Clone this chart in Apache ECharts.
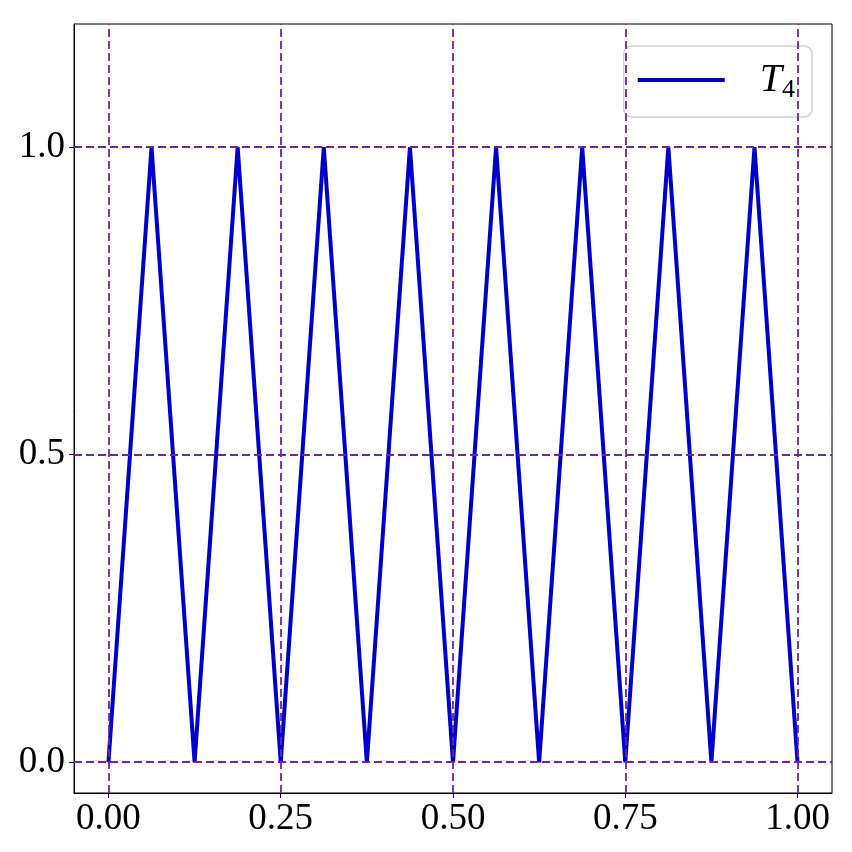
<!DOCTYPE html>
<html><head><meta charset="utf-8">
<script src="https://cdn.jsdelivr.net/npm/echarts@6/dist/echarts.min.js"></script>
<style>html,body{margin:0;padding:0;background:#fff}#c{width:852px;height:852px}</style>
</head><body><div id="c"></div>
<script>
// Tent map T_4 vertices
const xValues = [0, 0.0625, 0.125, 0.1875, 0.25, 0.3125, 0.375, 0.4375, 0.5, 0.5625, 0.625, 0.6875, 0.75, 0.8125, 0.875, 0.9375, 1.0];
const yValues = [0, 1, 0, 1, 0, 1, 0, 1, 0, 1, 0, 1, 0, 1, 0, 1, 0];
const xTicks = [0, 0.25, 0.5, 0.75, 1.0];
const yTicks = [0, 0.5, 1.0];
const seriesName = 'T4';

const fontFam = '"Liberation Serif", "DejaVu Serif", serif';
const gridColor = '#7420A8';
const chart = echarts.init(document.getElementById('c'));
chart.setOption({
  animation: false,
  grid: {left: 74, right: 20, top: 24, bottom: 59, show: true, borderColor: '#000', borderWidth: 1, containLabel: false},
  legend: {
    right: 40, top: 46, itemWidth: 87, itemHeight: 4, itemGap: 0,
    padding: [14, 17, 14, 14],
    borderColor: '#d0d0d0', borderWidth: 1.5, borderRadius: 8,
    backgroundColor: 'rgba(255,255,255,0.8)',
    icon: 'rect',
    data: [{name: seriesName}],
    formatter: function(){ return '{t|T}{s|4}'; },
    textStyle: {
      padding: [0, 0, 0, 30],
      rich: {
        t: {fontFamily: fontFam, fontStyle: 'italic', fontSize: 40, color: '#000'},
        s: {fontFamily: fontFam, fontSize: 26, color: '#000', padding: [20, 0, 0, 0]}
      }
    }
  },
  xAxis: {
    type: 'value', min: -0.05, max: 1.05,
    axisLine: {show: true, onZero: false, lineStyle: {color: '#000', width: 1}},
    axisTick: {show: true, length: 5, customValues: xTicks, lineStyle: {color: '#000'}},
    axisLabel: {customValues: xTicks, margin: 8, fontFamily: fontFam, fontSize: 37, color: '#000',
      formatter: v => v.toFixed(2)},
    splitLine: {show: false}
  },
  yAxis: {
    type: 'value', min: -0.05, max: 1.2,
    axisLine: {show: true, onZero: false, lineStyle: {color: '#000', width: 1}},
    axisTick: {show: true, length: 5, customValues: yTicks, lineStyle: {color: '#000'}},
    axisLabel: {customValues: yTicks, margin: 9, fontFamily: fontFam, fontSize: 37, color: '#000',
      formatter: v => v.toFixed(1)},
    splitLine: {show: false}
  },
  series: [{
    name: seriesName, type: 'line', symbol: 'none',
    data: xValues.map((x, i) => [x, yValues[i]]),
    lineStyle: {color: '#0000CD', width: 4},
    itemStyle: {color: '#0000CD'},
    z: 3,
    markLine: {
      silent: true, symbol: 'none', label: {show: false},
      lineStyle: {color: gridColor, type: [8, 4], width: 1.8},
      data: xTicks.map(v => ({xAxis: v})).concat(yTicks.map(v => ({yAxis: v})))
    }
  }]
});
</script></body></html>
